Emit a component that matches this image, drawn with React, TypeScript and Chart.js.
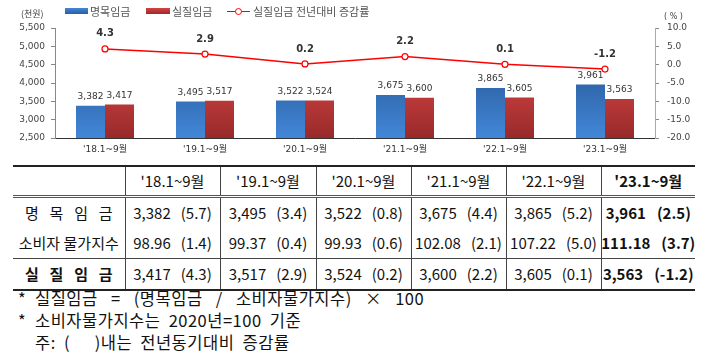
import React, { useEffect, useRef } from "react";
import { Chart, registerables } from "chart.js";

Chart.register(...registerables);

const categories = ["'18.1~9월", "'19.1~9월", "'20.1~9월", "'21.1~9월", "'22.1~9월", "'23.1~9월"];
const nominalWage = [3382, 3495, 3522, 3675, 3865, 3961];
const nominalGrowth = [5.7, 3.4, 0.8, 4.4, 5.2, 2.5];
const cpiIndex = [98.96, 99.37, 99.93, 102.08, 107.22, 111.18];
const cpiGrowth = [1.4, 0.4, 0.6, 2.1, 5.0, 3.7];
const realWage = [3417, 3517, 3524, 3600, 3605, 3563];
const realWageGrowth = [4.3, 2.9, 0.2, 2.2, 0.1, -1.2];

const leftMin = 2500;
const leftMax = 5500;
const leftStep = 500;
const rightMin = -20;
const rightMax = 10;
const rightStep = 5;

const KR = "'Noto Sans CJK KR', 'Noto Sans', sans-serif";
const DV = "'DejaVu Sans', 'Noto Sans CJK KR', sans-serif";

const fmtInt = (v: number) => v.toLocaleString("en-US");

const labelPlugin = {
  id: "valueLabels",
  afterDatasetsDraw(chart: any) {
    const ctx = chart.ctx;
    ctx.save();
    ctx.textAlign = "center";
    ctx.textBaseline = "middle";
    chart.data.datasets.forEach((ds: any, i: number) => {
      const meta = chart.getDatasetMeta(i);
      meta.data.forEach((el: any, j: number) => {
        const v = ds.data[j] as number;
        if (meta.type === "bar") {
          ctx.font = "9px 'DejaVu Sans'";
          ctx.fillStyle = "#333";
          ctx.fillText(fmtInt(v), el.x, el.y - 9);
        } else {
          ctx.font = "bold 10px 'DejaVu Sans'";
          ctx.fillStyle = "#333";
          ctx.fillText(v.toFixed(1), el.x, el.y - 15);
        }
      });
    });
    ctx.restore();
  },
};

function grad(ctx: any, top: string, bottom: string, fallback: string) {
  const chart = ctx.chart;
  const area = chart.chartArea;
  if (!area) return fallback;
  const g = chart.ctx.createLinearGradient(0, area.top + 40, 0, area.bottom);
  g.addColorStop(0, top);
  g.addColorStop(1, bottom);
  return g;
}

function ChartBox() {
  const ref = useRef<HTMLCanvasElement | null>(null);
  useEffect(() => {
    if (!ref.current) return;
    const chart = new Chart(ref.current, {
      type: "bar",
      data: {
        labels: categories,
        datasets: [
          {
            type: "line",
            label: "실질임금 전년대비 증감률",
            data: realWageGrowth,
            yAxisID: "y1",
            borderColor: "#ff0000",
            borderWidth: 1.5,
            pointRadius: 3,
            pointBackgroundColor: "#ffffff",
            pointBorderColor: "#ff0000",
            pointBorderWidth: 1.2,
            tension: 0,
            order: 0,
          } as any,
          {
            type: "bar",
            label: "명목임금",
            data: nominalWage,
            yAxisID: "y",
            backgroundColor: (c: any) => grad(c, "#2b5d9e", "#4287d8", "#3570b8"),
            categoryPercentage: 0.58,
            barPercentage: 1.0,
            order: 1,
          },
          {
            type: "bar",
            label: "실질임금",
            data: realWage,
            yAxisID: "y",
            backgroundColor: (c: any) => grad(c, "#d44444", "#992a2a", "#c03838"),
            categoryPercentage: 0.58,
            barPercentage: 1.0,
            order: 1,
          },
        ],
      },
      options: {
        animation: false,
        responsive: false,
        maintainAspectRatio: false,
        layout: { padding: { top: 28, left: 0, right: 0, bottom: 0 } },
        plugins: { legend: { display: false }, tooltip: { enabled: false } },
        scales: {
          x: {
            offset: true,
            grid: { display: false, drawTicks: false },
            border: { display: true, color: "#333", width: 1 },
            ticks: { font: { family: DV, size: 9 }, color: "#333", padding: 6, maxRotation: 0 },
            afterFit: (s: any) => { s.height = 22; },
          },
          y: {
            position: "left",
            min: leftMin,
            max: leftMax,
            ticks: {
              stepSize: leftStep,
              font: { family: DV, size: 9 },
              color: "#444",
              padding: 6,
              callback: (v: any) => fmtInt(Number(v)),
            },
            grid: { display: true, drawOnChartArea: false, drawTicks: true, tickLength: 4, color: "#888" },
            border: { display: true, color: "#888", width: 1 },
            afterFit: (s: any) => { s.width = 55; },
          },
          y1: {
            position: "right",
            min: rightMin,
            max: rightMax,
            ticks: {
              stepSize: rightStep,
              font: { family: DV, size: 9 },
              color: "#444",
              padding: 8,
              callback: (v: any) => Number(v).toFixed(1),
            },
            grid: { display: true, drawOnChartArea: false, drawTicks: true, tickLength: 4, color: "#888" },
            border: { display: true, color: "#aaa", width: 1 },
            afterFit: (s: any) => { s.width = 55; },
          },
        },
      },
      plugins: [labelPlugin],
    });
    return () => chart.destroy();
  }, []);
  return (
    <canvas
      ref={ref}
      width={710}
      height={160}
      style={{ position: "absolute", left: 0, top: 0, width: 710, height: 160 }}
    />
  );
}

const legendText: React.CSSProperties = {
  position: "absolute",
  top: 3,
  fontFamily: KR,
  fontSize: 11,
  color: "#555",
  lineHeight: "16px",
  whiteSpace: "nowrap",
};

function Legend() {
  return (
    <>
      <div style={{ position: "absolute", left: 21, top: 8, fontFamily: KR, fontSize: 9, color: "#444", lineHeight: "12px" }}>(천원)</div>
      <div style={{ position: "absolute", left: 664, top: 11, fontFamily: DV, fontSize: 8, color: "#444", lineHeight: "12px", whiteSpace: "pre" }}>( % )</div>
      <div style={{ position: "absolute", left: 65, top: 8, width: 23, height: 6, background: "linear-gradient(#4287d8,#2b5d9e)" }} />
      <div style={{ ...legendText, left: 90 }}>명목임금</div>
      <div style={{ position: "absolute", left: 146, top: 8, width: 24, height: 6, background: "linear-gradient(#d44444,#992a2a)" }} />
      <div style={{ ...legendText, left: 172 }}>실질임금</div>
      <div style={{ position: "absolute", left: 227, top: 10.5, width: 23, height: 1.5, background: "#ff0000" }} />
      <div style={{ position: "absolute", left: 235, top: 8, width: 5, height: 5, borderRadius: "50%", border: "1.2px solid #ff0000", background: "#fff" }} />
      <div style={{ ...legendText, left: 253 }}>실질임금 전년대비 증감률</div>
    </>
  );
}

const colWidths = [112, 95, 96, 95, 95, 95, 94];

function DataCell({ v, p, bold }: { v: string; p: string; bold?: boolean }) {
  return (
    <td style={{ borderLeft: "1px solid #444", padding: 0, fontWeight: bold ? 700 : 400 }}>
      <div style={{ display: "flex", justifyContent: "center", alignItems: "center", gap: bold ? 11 : 10, whiteSpace: "nowrap" }}>
        <span>{v}</span>
        <span>{p}</span>
      </div>
    </td>
  );
}

function SpacedLabel({ text, bold }: { text: string; bold?: boolean }) {
  return (
    <div style={{ display: "flex", justifyContent: "space-between", padding: "0 12px", fontWeight: bold ? 700 : 400 }}>
      {text.split("").map((ch, i) => (
        <span key={i}>{ch}</span>
      ))}
    </div>
  );
}

function Table() {
  const rowH = 30;
  const cellBase: React.CSSProperties = { height: rowH, padding: 0, verticalAlign: "middle" };
  return (
    <table
      style={{
        position: "absolute",
        left: 13,
        top: 165,
        width: 682,
        borderCollapse: "collapse",
        tableLayout: "fixed",
        fontFamily: KR,
        fontSize: 15,
        color: "#111",
        lineHeight: "18px",
      }}
    >
      <colgroup>
        {colWidths.map((w, i) => (
          <col key={i} style={{ width: w }} />
        ))}
      </colgroup>
      <tbody>
        <tr style={{ borderTop: "2px solid #222", borderBottom: "3px double #555" }}>
          <td style={{ ...cellBase, height: 28 }} />
          {categories.map((c, i) => (
            <td
              key={i}
              style={{
                ...cellBase,
                height: 28,
                borderLeft: "1px solid #444",
                textAlign: "center",
                fontWeight: i === categories.length - 1 ? 700 : 400,
              }}
            >
              {c}
            </td>
          ))}
        </tr>
        <tr style={{ height: rowH }}>
          <td style={cellBase}>
            <SpacedLabel text="명목임금" />
          </td>
          {nominalWage.map((v, i) => (
            <DataCell key={i} v={fmtInt(v)} p={`(${nominalGrowth[i].toFixed(1)})`} bold={i === nominalWage.length - 1} />
          ))}
        </tr>
        <tr style={{ height: rowH }}>
          <td style={{ ...cellBase, textAlign: "center", whiteSpace: "nowrap" }}>소비자 물가지수</td>
          {cpiIndex.map((v, i) => (
            <DataCell key={i} v={v.toFixed(2)} p={`(${cpiGrowth[i].toFixed(1)})`} bold={i === cpiIndex.length - 1} />
          ))}
        </tr>
        <tr style={{ height: rowH, borderTop: "1px solid #444", borderBottom: "2px solid #222" }}>
          <td style={cellBase}>
            <SpacedLabel text="실질임금" bold />
          </td>
          {realWage.map((v, i) => (
            <DataCell key={i} v={fmtInt(v)} p={`(${realWageGrowth[i].toFixed(1)})`} bold={i === realWage.length - 1} />
          ))}
        </tr>
      </tbody>
    </table>
  );
}

function Notes() {
  const line: React.CSSProperties = { height: 22, lineHeight: "22px", whiteSpace: "pre", position: "relative" };
  const star: React.CSSProperties = { position: "absolute", left: 0, top: 0 };
  const body: React.CSSProperties = { position: "absolute", left: 17, top: 0, letterSpacing: "0.5px", wordSpacing: "4px" };
  return (
    <div style={{ position: "absolute", left: 18, top: 287, width: 680, fontFamily: KR, fontSize: 16.5, color: "#111" }}>
      <div style={line}>
        <span style={star}>*</span>
        <span style={{ ...body, wordSpacing: "9px" }}>{"실질임금 = (명목임금 / 소비자물가지수) × 100"}</span>
      </div>
      <div style={line}>
        <span style={star}>*</span>
        <span style={body}>{"소비자물가지수는 2020년=100 기준"}</span>
      </div>
      <div style={line}>
        <span style={body}>{"주: (   )내는 전년동기대비 증감률"}</span>
      </div>
    </div>
  );
}

export default function App() {
  return (
    <div style={{ position: "fixed", left: 0, top: 0, width: 710, height: 355, background: "#fff", overflow: "hidden" }}>
      <ChartBox />
      <Legend />
      <Table />
      <Notes />
    </div>
  );
}
